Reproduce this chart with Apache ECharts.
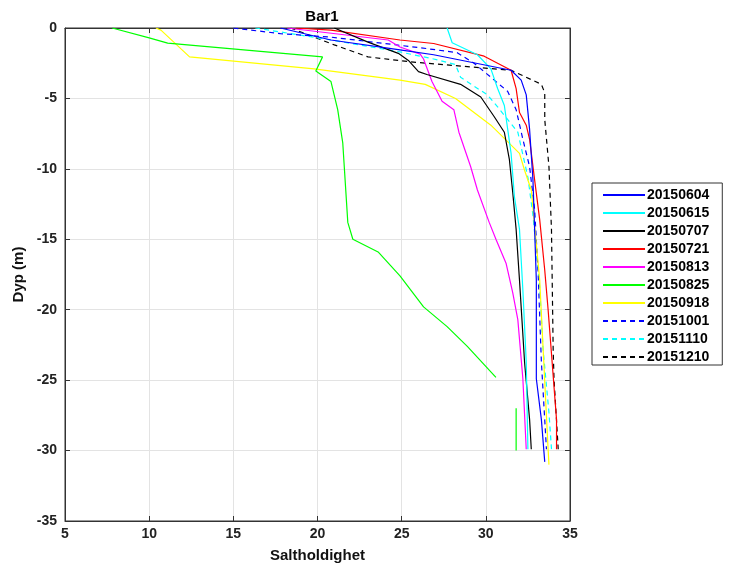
<!DOCTYPE html>
<html>
<head>
<meta charset="utf-8">
<script src="https://cdn.jsdelivr.net/npm/echarts@6/dist/echarts.min.js"></script>
<style>
  html, body { margin: 0; padding: 0; background: #fff; }
  #chart { width: 730px; height: 568px; }
</style>
</head>
<body>
<div id="chart"></div>
<script>
// Salinity profiles at station Bar1: each point is [salinity, depth (m)]
const dates = ['20150604', '20150615', '20150707', '20150721', '20150813',
               '20150825', '20150918', '20151001', '20151110', '20151210'];

const p20150604 = [[17.8, 0], [20.8, -0.85], [24.9, -1.55], [26.9, -1.9], [31.5, -3.0], [32.1, -3.7],
  [32.4, -4.75], [32.6, -7.2], [32.8, -10.8], [33.0, -17.9], [33.0, -24.9], [33.3, -27.8], [33.5, -30.8]];
const p20150615 = [[27.7, 0], [28.0, -1.05], [29.5, -1.9], [30.3, -2.9], [30.7, -4.3], [31.1, -5.5],
  [31.3, -7.2], [31.5, -8.9], [31.7, -12.0], [32.0, -14.3], [32.2, -18.6], [32.4, -23.7], [32.5, -29.9]];
const p20150707 = [[21.0, 0], [23.0, -1.0], [24.8, -1.8], [25.4, -2.3], [26.0, -3.1], [26.5, -3.3],
  [28.5, -4.0], [29.7, -4.9], [30.5, -6.3], [31.1, -7.4], [31.4, -9.35], [31.6, -11.7], [31.8, -14.3],
  [32.0, -17.9], [32.3, -23.7], [32.6, -27.8], [32.7, -29.9]];
const p20150721 = [[18.7, 0], [20.8, -0.15], [24.9, -0.85], [26.9, -1.1], [29.9, -2.0], [31.5, -3.0],
  [31.8, -4.3], [32.0, -6.0], [32.4, -6.9], [32.6, -7.9], [32.9, -10.8], [33.2, -13.6], [33.5, -17.2],
  [33.7, -20.0], [34.2, -27.8], [34.2, -29.9]];
const p20150813 = [[18.2, 0], [24.2, -0.85], [24.9, -1.35], [26.1, -1.85], [26.3, -2.2], [26.8, -3.8],
  [27.4, -5.2], [28.1, -5.8], [28.4, -7.4], [29.1, -9.85], [29.5, -11.5], [30.2, -13.8], [30.6, -15.0],
  [31.2, -16.7], [31.6, -18.8], [31.9, -20.7], [32.2, -24.9], [32.4, -29.9]];
const p20150825 = [[7.8, 0], [10.0, -0.7], [11.1, -1.07], [20.3, -2.05], [19.9, -3.05], [20.8, -3.8],
  [21.2, -5.8], [21.5, -8.15], [21.8, -13.8], [22.1, -15.0], [23.6, -15.9], [24.9, -17.6], [26.3, -19.8],
  [27.7, -21.2], [28.9, -22.6], [30.6, -24.8], null, [31.8, -27.0], [31.8, -30.0]];
const p20150918 = [[10.4, 0], [10.7, -0.15], [12.4, -2.05], [19.8, -2.9], [24.9, -3.7], [26.4, -4.0],
  [28.2, -5.0], [30.3, -6.9], [32.0, -8.9], [32.3, -10.1], [32.7, -11.5], [33.2, -17.9], [33.7, -29.9],
  [33.75, -31.0]];
const p20151001 = [[15.0, 0], [17.8, -0.4], [20.8, -0.65], [26.1, -1.4], [28.3, -1.75], [29.3, -2.5],
  [31.3, -4.5], [31.8, -5.8], [32.2, -7.9], [32.6, -9.85], [32.9, -12.9], [33.1, -17.2], [33.3, -23.7],
  [33.6, -29.9]];
const p20151110 = [[16.3, 0], [20.8, -0.85], [24.9, -1.7], [26.9, -2.2], [28.2, -2.6], [28.5, -3.5],
  [30.1, -4.75], [30.7, -5.6], [31.9, -7.4], [32.5, -10.6], [32.8, -13.3], [33.2, -18.4], [33.4, -22.8],
  [33.75, -27.3], [33.9, -29.9]];
const p20151210 = [[18.4, 0], [21.0, -1.2], [23.0, -2.05], [25.5, -2.4], [31.5, -3.0], [33.3, -4.0],
  [33.5, -4.6], [33.5, -6.5], [33.75, -9.85], [33.9, -14.3], [34.0, -22.8], [34.05, -24.9], [34.3, -29.9]];

const profiles = [p20150604, p20150615, p20150707, p20150721, p20150813,
                  p20150825, p20150918, p20151001, p20151110, p20151210];
const colors = ['#0000ff', '#00ffff', '#000000', '#ff0000', '#ff00ff',
                '#00ff00', '#ffff00', '#0000ff', '#00ffff', '#000000'];
const dashes = ['solid', 'solid', 'solid', 'solid', 'solid',
                'solid', 'solid', 'dashed', 'dashed', 'dashed'];

const xTicks = { min: 5, max: 35, step: 5 };
const yTicks = { min: -35, max: 0, step: 5 };

const FONT = '"Liberation Sans", Arial, Helvetica, sans-serif';

const series = dates.map((d, i) => ({
  name: d,
  type: 'line',
  xAxisIndex: 0,
  yAxisIndex: 0,
  data: profiles[i].map(p => p === null ? '-' : p),
  showSymbol: false,
  symbol: 'none',
  connectNulls: false,
  animation: false,
  lineStyle: { color: colors[i], width: 1.2, type: dashes[i] === 'dashed' ? [5, 4] : 'solid' },
  itemStyle: { color: colors[i] },
  z: 10 - i
}));

const chart = echarts.init(document.getElementById('chart'), null, { renderer: 'canvas' });

const gridLine = { show: true, lineStyle: { color: '#e3e3e3', width: 1 } };

chart.setOption({
  backgroundColor: '#ffffff',
  animation: false,
  textStyle: { fontFamily: FONT },
  title: {
    text: 'Bar1',
    left: 317,
    top: 4,
    textAlign: 'center',
    textStyle: { fontFamily: FONT, fontWeight: 'bold', fontSize: 15, color: '#000' }
  },
  grid: {
    left: 65, right: 160, top: 28, bottom: 46,
    show: true, borderColor: '#333', borderWidth: 1, backgroundColor: 'transparent'
  },
  legend: {
    orient: 'vertical',
    left: 592,
    top: 183,
    padding: [4, 13, 0, 10],
    itemWidth: 42,
    itemHeight: 12,
    itemGap: 2,
    borderColor: '#333',
    borderWidth: 1,
    backgroundColor: '#fff',
    itemStyle: { opacity: 0 },
    textStyle: { fontFamily: FONT, fontWeight: 'bold', fontSize: 14, lineHeight: 16, color: '#000', padding: [0, 0, 0, -3] },
    data: dates
  },
  xAxis: [{
    type: 'value', min: xTicks.min, max: xTicks.max, interval: xTicks.step,
    position: 'bottom',
    name: 'Saltholdighet', nameLocation: 'middle', nameGap: 27,
    nameTextStyle: { fontFamily: FONT, fontWeight: 'bold', fontSize: 15, color: '#111' },
    axisLine: { show: true, onZero: false, lineStyle: { color: '#333' } },
    axisTick: { show: true, inside: true, length: 5, lineStyle: { color: '#333' } },
    axisLabel: { fontFamily: FONT, fontWeight: 'bold', fontSize: 14, color: '#222', margin: 6 },
    splitLine: gridLine
  }, {
    type: 'value', min: xTicks.min, max: xTicks.max, interval: xTicks.step,
    position: 'top',
    axisLine: { show: true, onZero: false, lineStyle: { color: '#333' } },
    axisTick: { show: true, inside: true, length: 5, lineStyle: { color: '#333' } },
    axisLabel: { show: false },
    splitLine: { show: false }
  }],
  yAxis: [{
    type: 'value', min: yTicks.min, max: yTicks.max, interval: yTicks.step,
    position: 'left',
    name: 'Dyp (m)', nameLocation: 'middle', nameGap: 37,
    nameTextStyle: { fontFamily: FONT, fontWeight: 'bold', fontSize: 15, color: '#111' },
    axisLine: { show: true, onZero: false, lineStyle: { color: '#333' } },
    axisTick: { show: true, inside: true, length: 5, lineStyle: { color: '#333' } },
    axisLabel: { fontFamily: FONT, fontWeight: 'bold', fontSize: 14, color: '#222', margin: 8 },
    splitLine: gridLine
  }, {
    type: 'value', min: yTicks.min, max: yTicks.max, interval: yTicks.step,
    position: 'right',
    axisLine: { show: true, onZero: false, lineStyle: { color: '#333' } },
    axisTick: { show: true, inside: true, length: 5, lineStyle: { color: '#333' } },
    axisLabel: { show: false },
    splitLine: { show: false }
  }],
  series: series
});
</script>
</body>
</html>
